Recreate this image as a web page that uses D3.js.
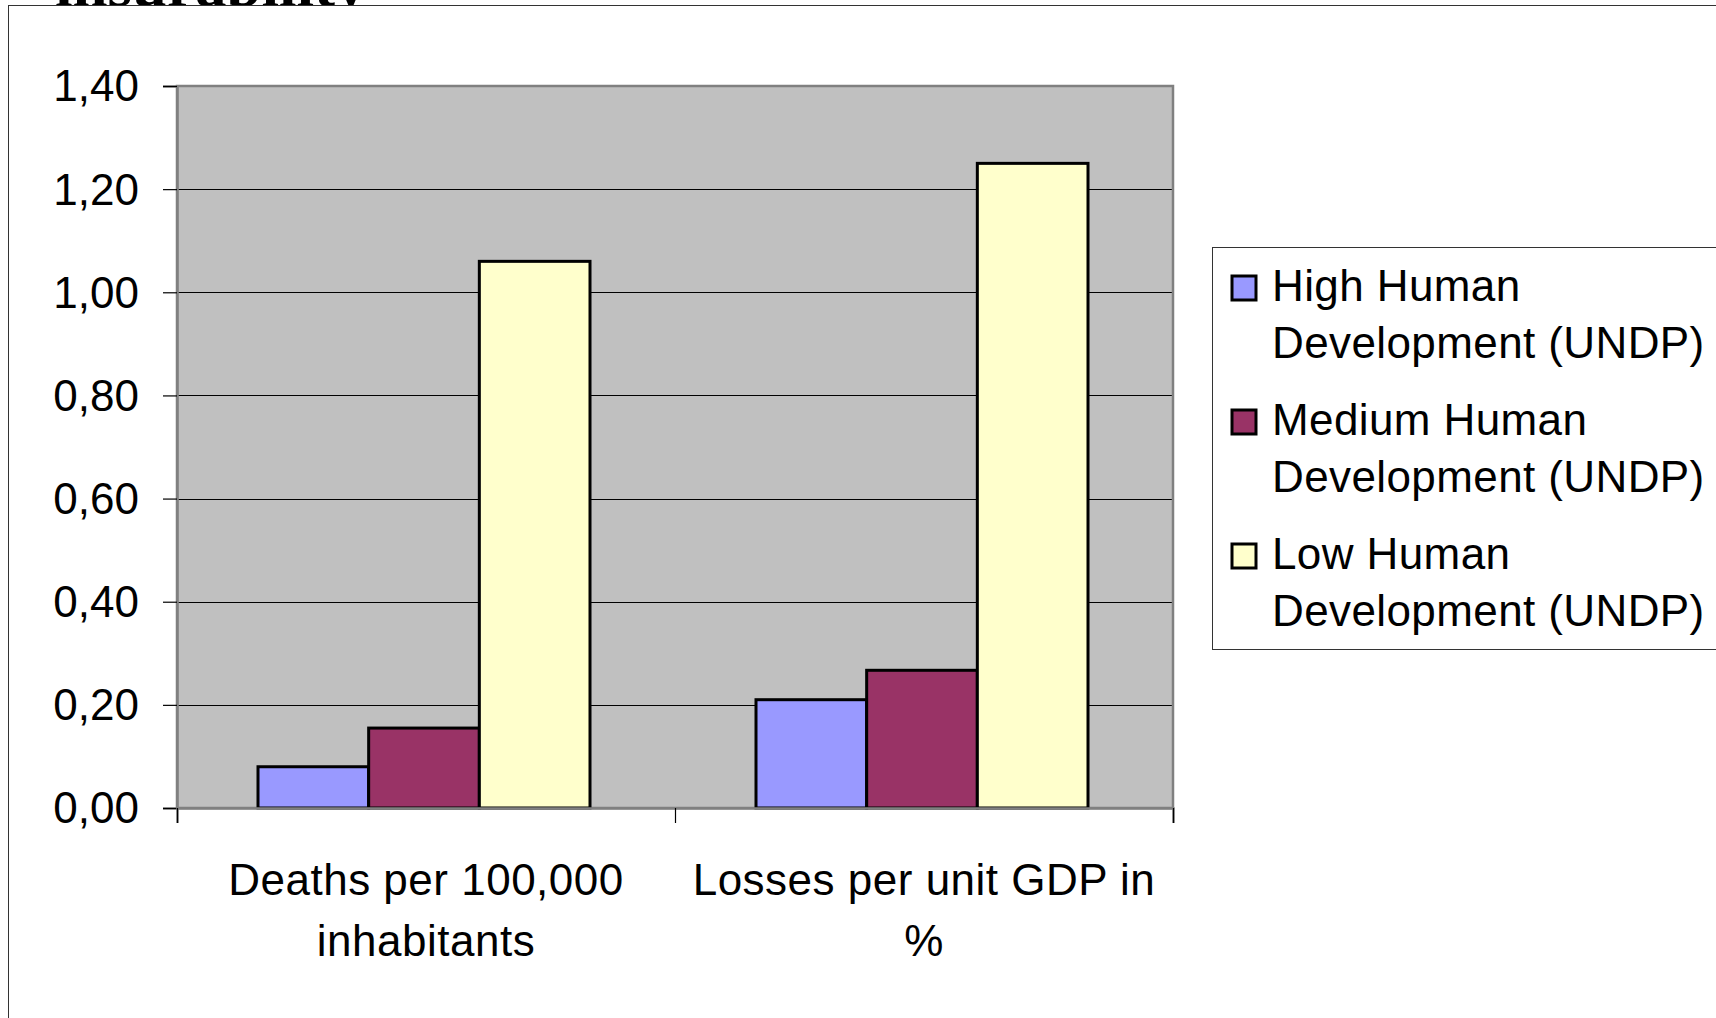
<!DOCTYPE html>
<html>
<head>
<meta charset="utf-8">
<script src="https://cdn.jsdelivr.net/npm/d3@7"></script>
<style>
  html, body { margin: 0; padding: 0; background: #fff; }
  svg { display: block; }
  text { font-family: "Liberation Sans", Arial, sans-serif; fill: #000; }
</style>
</head>
<body>
<svg id="chart" width="1716" height="1018"></svg>
<script>
// ---- data ----
const categories = ["Deaths per 100,000|inhabitants", "Losses per unit GDP in|%"];
const seriesNames = ["High Human|Development (UNDP)", "Medium Human|Development (UNDP)", "Low Human|Development (UNDP)"];
const seriesColors = ["#9999FF", "#993366", "#FFFFCC"];
const highValues = [0.08, 0.21];
const mediumValues = [0.155, 0.267];
const lowValues = [1.06, 1.25];
const yTicks = [0, 0.2, 0.4, 0.6, 0.8, 1.0, 1.2, 1.4];
const titleText = "insurability";

const seriesValues = [highValues, mediumValues, lowValues];

const svg = d3.select("#chart");

// clipped title behind chart area
svg.append("text")
  .attr("x", 55).attr("y", 6)
  .style("font-family", "'Liberation Serif', 'Times New Roman', serif")
  .style("font-weight", "bold")
  .style("font-size", "63px")
  .text(titleText);

// chart area
svg.append("rect")
  .attr("x", 8.5).attr("y", 5.5)
  .attr("width", 1760).attr("height", 1100)
  .attr("fill", "#fff").attr("stroke", "#333").attr("stroke-width", 1);

const plot = { left: 177, right: 1173, top: 86, bottom: 808 };

const x0 = d3.scaleBand().domain(d3.range(categories.length))
  .range([plot.left, plot.right]).paddingInner(0).paddingOuter(0);
const x1 = d3.scaleBand().domain(d3.range(seriesNames.length))
  .range([0, x0.bandwidth()]).paddingInner(0).paddingOuter(0.75);
const y = d3.scaleLinear().domain([0, 1.4]).range([plot.bottom, plot.top]);

const locale = d3.formatLocale({ decimal: ",", thousands: ".", grouping: [3], currency: ["", ""] });
const fmt = locale.format(".2f");

// plot background
svg.append("rect")
  .attr("x", plot.left).attr("y", plot.top)
  .attr("width", plot.right - plot.left).attr("height", plot.bottom - plot.top)
  .attr("fill", "#C0C0C0");

// gridlines
svg.append("g").selectAll("line")
  .data(yTicks.filter(t => t > 0 && t < 1.4))
  .join("line")
  .attr("x1", plot.left).attr("x2", plot.right)
  .attr("y1", d => Math.round(y(d)) + 0.5).attr("y2", d => Math.round(y(d)) + 0.5)
  .attr("stroke", "#000").attr("stroke-width", 1);

// plot border
svg.append("rect")
  .attr("x", plot.left).attr("y", plot.top)
  .attr("width", plot.right - plot.left).attr("height", plot.bottom - plot.top)
  .attr("fill", "none").attr("stroke", "#808080").attr("stroke-width", 2.5);

// bars
const groups = svg.append("g").selectAll("g")
  .data(categories.map((c, i) => i))
  .join("g")
  .attr("transform", i => `translate(${x0(i) - 2},0)`);

groups.selectAll("rect")
  .data(i => seriesValues.map((vals, s) => ({ s, v: vals[i] })))
  .join("rect")
  .attr("x", d => x1(d.s))
  .attr("width", x1.bandwidth())
  .attr("y", d => y(d.v))
  .attr("height", d => y(0) - y(d.v))
  .attr("fill", d => seriesColors[d.s])
  .attr("stroke", "#000").attr("stroke-width", 3)
  .attr("stroke-linejoin", "miter");

// y axis
const yAxis = d3.axisLeft(y).tickValues(yTicks).tickFormat(fmt).tickSize(14).tickPadding(24);
const yg = svg.append("g").attr("transform", `translate(${plot.left},0)`).call(yAxis);
yg.select(".domain").attr("stroke", "#808080").attr("stroke-width", 2.5);
yg.selectAll(".tick line").attr("stroke", "#000").attr("stroke-width", 1.2);
yg.selectAll(".tick text")
  .style("font-family", "'Liberation Sans', Arial, sans-serif")
  .style("font-size", "44px").attr("fill", "#000").attr("dy", "0.34em");

// x axis
const xAxisScale = d3.scaleLinear().domain([0, categories.length]).range([plot.left, plot.right]);
const xg = svg.append("g").attr("transform", `translate(0,${plot.bottom})`)
  .call(d3.axisBottom(xAxisScale).tickValues(d3.range(categories.length + 1)).tickSize(15).tickFormat(""));
xg.select(".domain").attr("stroke", "#808080").attr("stroke-width", 2.5);
xg.selectAll(".tick line").attr("stroke", "#000").attr("stroke-width", 1.2);

// category labels
const catLabels = svg.append("g").selectAll("text")
  .data(categories.map((c, i) => ({ c, i })))
  .join("text")
  .attr("x", d => x0(d.i) + x0.bandwidth() / 2)
  .attr("y", 895)
  .attr("text-anchor", "middle")
  .style("font-size", "44px")
  .style("letter-spacing", "0.5px");
catLabels.selectAll("tspan")
  .data(d => d.c.split("|").map(t => ({ t, x: x0(d.i) + x0.bandwidth() / 2 })))
  .join("tspan")
  .attr("x", d => d.x)
  .attr("dy", (d, k) => k === 0 ? 0 : 61)
  .text(d => d.t);

// legend
const legend = svg.append("g");
legend.append("rect")
  .attr("x", 1212.5).attr("y", 247.5)
  .attr("width", 600).attr("height", 402)
  .attr("fill", "#fff").attr("stroke", "#333").attr("stroke-width", 1);

const entries = legend.selectAll("g.entry")
  .data(seriesNames.map((n, s) => ({ n, s })))
  .join("g").attr("class", "entry")
  .attr("transform", d => `translate(0,${d.s * 134})`);

entries.append("rect")
  .attr("x", 1232).attr("y", 276)
  .attr("width", 24).attr("height", 24)
  .attr("fill", d => seriesColors[d.s])
  .attr("stroke", "#000").attr("stroke-width", 3);

entries.append("text")
  .attr("y", 301)
  .style("font-size", "44px")
  .style("letter-spacing", "0.4px")
  .selectAll("tspan")
  .data(d => d.n.split("|"))
  .join("tspan")
  .attr("x", 1272)
  .attr("dy", (d, k) => k === 0 ? 0 : 57)
  .text(d => d);
</script>
</body>
</html>
